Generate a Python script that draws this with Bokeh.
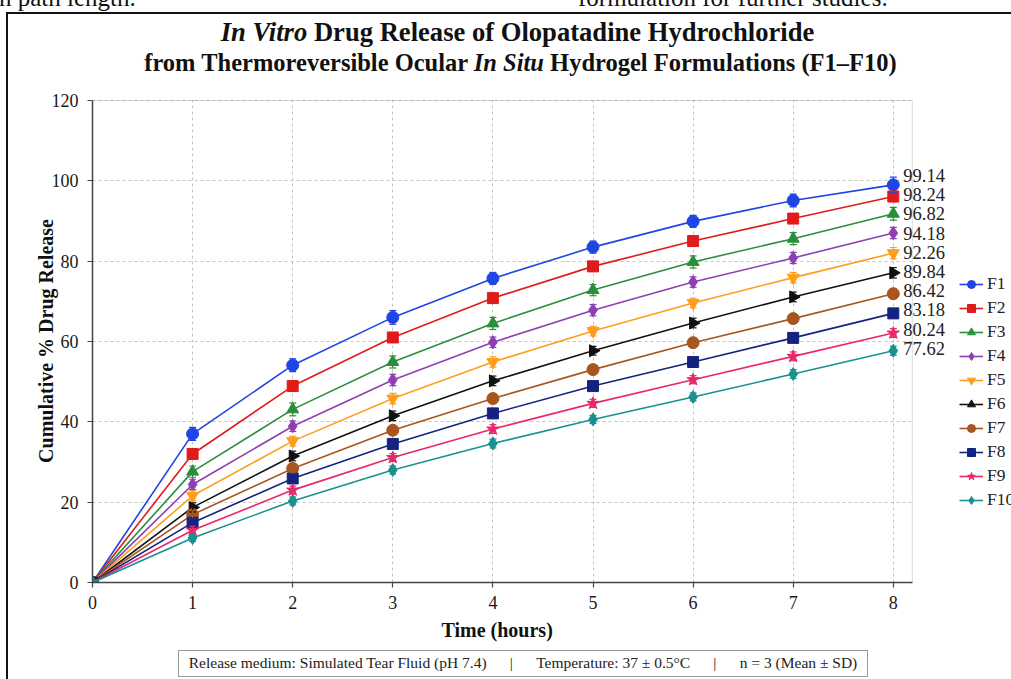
import math
from bokeh.plotting import figure
from bokeh.layouts import column
from bokeh.models import (Legend, LegendItem, Whisker, TeeHead, ColumnDataSource,
                          FixedTicker, Range1d, Div, BoxAnnotation, Title)
from bokeh.core.properties import value
from bokeh.embed import file_html
from bokeh.resources import INLINE

# ---------------- data ----------------
time_h = [0, 1, 2, 3, 4, 5, 6, 7, 8]
series_names = ["F1", "F2", "F3", "F4", "F5", "F6", "F7", "F8", "F9", "F10"]
F1 = [0, 37.0, 54.1, 66.0, 75.7, 83.5, 89.9, 95.1, 99.0]
F2 = [0, 32.0, 48.9, 61.0, 70.8, 78.7, 85.0, 90.6, 96.1]
F3 = [0, 27.6, 43.1, 54.9, 64.5, 72.8, 79.8, 85.6, 91.8]
F4 = [0, 24.4, 38.9, 50.4, 59.8, 67.8, 74.8, 80.8, 87.0]
F5 = [0, 21.6, 35.2, 45.8, 54.9, 62.6, 69.6, 75.9, 82.0]
F6 = [0, 18.7, 31.5, 41.5, 50.2, 57.7, 64.6, 71.1, 77.1]
F7 = [0, 16.9, 28.4, 37.9, 45.8, 53.0, 59.7, 65.7, 71.9]
F8 = [0, 14.9, 25.9, 34.5, 42.1, 48.9, 54.9, 60.9, 67.0]
F9 = [0, 13.0, 23.0, 31.1, 38.2, 44.6, 50.5, 56.3, 62.1]
F10 = [0, 11.1, 20.3, 28.0, 34.6, 40.6, 46.2, 51.9, 57.7]
SD1 = [0, 1.6, 1.6, 1.7, 1.5, 1.5, 1.5, 1.6, 1.9]
SD2 = [0, 1.2, 1.3, 1.2, 1.2, 1.2, 1.2, 1.2, 1.3]
SD3 = [0, 1.4, 1.6, 1.5, 1.5, 1.4, 1.5, 1.5, 1.6]
SD4 = [0, 1.3, 1.3, 1.4, 1.3, 1.4, 1.3, 1.4, 1.4]
SD5 = [0, 1.2, 1.2, 1.3, 1.3, 1.2, 1.2, 1.3, 1.4]
SD6 = [0, 1.1, 1.2, 1.2, 1.2, 1.1, 1.2, 1.2, 1.3]
SD7 = [0, 1.0, 1.1, 1.1, 1.1, 1.1, 1.1, 1.1, 1.2]
SD8 = [0, 1.0, 1.0, 1.1, 1.1, 1.0, 1.1, 1.1, 1.2]
SD9 = [0, 1.0, 1.0, 1.0, 1.1, 1.0, 1.0, 1.1, 1.1]
SD10 = [0, 0.9, 1.0, 1.0, 1.1, 1.0, 1.0, 1.1, 1.1]
end_labels = ["99.14", "98.24", "96.82", "94.18", "92.26", "89.84", "86.42", "83.18", "80.24", "77.62"]
x_ticks = [0, 1, 2, 3, 4, 5, 6, 7, 8]
y_ticks = [0, 20, 40, 60, 80, 100, 120]

values = [F1, F2, F3, F4, F5, F6, F7, F8, F9, F10]
sds = [SD1, SD2, SD3, SD4, SD5, SD6, SD7, SD8, SD9, SD10]
colors = ["#1f45e6", "#e01b1b", "#2a8f3a", "#8e3fb5", "#ff9d1e",
          "#111111", "#a8561e", "#14237f", "#e8286b", "#1a9090"]
markers = ["circle", "square", "triangle", "diamond", "inverted_triangle",
           "triangle", "circle", "square", "star", "diamond"]
angles = [0, 0, 0, 0, 0, -math.pi / 2, 0, 0, 0, 0]
sizes = [12, 11, 12, 13, 12, 12, 12, 11, 13, 13]

SERIF = "Liberation Serif"
X_MAX = 8.19      # right edge of the plotting box (hours)
Y_MAX = 120

# ---------------- page pieces ----------------
top_html = (
    '<div style="position:relative;width:1011px;height:12px;overflow:hidden;'
    'font-family:\'Liberation Serif\',serif;font-size:25px;line-height:25px;color:#111;white-space:nowrap">'
    '<span style="position:absolute;left:-1px;top:-15px">n path length.</span>'
    '<span style="position:absolute;left:578px;top:-15px">formulation for further studies.</span>'
    '</div>'
)
top_div = Div(text=top_html, width=1011, height=12, margin=0,
              styles={"overflow": "hidden"})

title_html = (
    '<div style="position:relative;width:1003px;height:70px;font-family:\'Liberation Serif\',serif;'
    'font-weight:bold;color:#111;white-space:nowrap">'
    '<div style="position:absolute;left:0;top:3px;width:1019px;text-align:center;'
    'font-size:26.6px;line-height:30px"><i>In Vitro</i> Drug Release of Olopatadine Hydrochloride</div>'
    '<div style="position:absolute;left:0;top:33.5px;width:1025px;text-align:center;'
    'font-size:24.5px;line-height:30px">from Thermoreversible Ocular <i>In Situ</i> '
    'Hydrogel Formulations (F1\u2013F10)</div>'
    '</div>'
)
title_div = Div(text=title_html, width=1003, height=70, margin=0)

sep = "&nbsp;" * 6 + "|" + "&nbsp;" * 6
footer_html = (
    '<div style="position:relative;width:1003px;height:31px">'
    '<div style="position:absolute;left:170px;top:-4px;width:690px;height:27px;box-sizing:border-box;'
    'border:1px solid #9a9a9a;background:#fff;display:flex;align-items:center;justify-content:center;'
    'font-family:\'Liberation Serif\',serif;font-size:15.5px;color:#222;white-space:nowrap">'
    'Release medium: Simulated Tear Fluid (pH 7.4)' + sep +
    'Temperature: 37 \u00b1 0.5\u00b0C' + sep + 'n = 3 (Mean \u00b1 SD)'
    '</div></div>'
)
footer_div = Div(text=footer_html, width=1003, height=31, margin=0)

# ---------------- figure ----------------
PW, PH = 1003, 570
MBL, MBT, MBB = 84, 15, 72
frame_w = PW - MBL
frame_h = PH - MBT - MBB
px_per_hour = 100.1
px_per_unit = 4.0167
p = figure(width=PW, height=PH, output_backend="svg", toolbar_location=None,
           x_range=Range1d(0, frame_w / px_per_hour),
           y_range=Range1d(0, frame_h / px_per_unit),
           min_border_left=MBL, min_border_right=0,
           min_border_top=MBT, min_border_bottom=MBB, margin=0)
p.background_fill_color = "white"
p.border_fill_color = "white"
p.outline_line_color = None

for ax in (p.xaxis, p.yaxis):
    ax.major_label_text_font = SERIF
    ax.major_label_text_font_size = "18px"
    ax.major_label_text_color = "#1a1a1a"
    ax.axis_line_color = "#444444"
    ax.axis_line_width = 1.5
    ax.major_tick_line_color = "#444444"
    ax.major_tick_line_width = 1.2
    ax.major_tick_out = 5
    ax.major_tick_in = 0
    ax.minor_tick_line_color = None
    ax.axis_label_text_font = SERIF
    ax.axis_label_text_font_style = "bold"
    ax.axis_label_text_font_size = "20px"
    ax.axis_label_text_color = "#111111"

p.xaxis.ticker = FixedTicker(ticks=x_ticks)
p.yaxis.ticker = FixedTicker(ticks=y_ticks)
p.xaxis.bounds = (0, X_MAX)
p.yaxis.bounds = (0, Y_MAX)
p.yaxis.axis_label = "Cumulative % Drug Release"
p.xaxis.major_label_standoff = 8
p.yaxis.major_label_standoff = 9
p.yaxis.axis_label_standoff = -8

# x-axis title, centred under the plotting box (not under the legend area)
p.add_layout(Title(text="Time (hours)", align="left", offset=349, vertical_align="top",
                   standoff=14, text_font=SERIF, text_font_style="bold",
                   text_font_size="20px", text_color="#111111"), "below")

for g in (p.xgrid, p.ygrid):
    g.grid_line_color = "#c4c4c4"
    g.grid_line_dash = "3 3"
    g.grid_line_width = 1

# hide grid beyond the plotting box (legend / label area)
p.add_layout(BoxAnnotation(left=X_MAX, fill_color="white", fill_alpha=1.0,
                           line_alpha=0, level="underlay"))
# gray box around the plotting area
p.add_layout(BoxAnnotation(left=0, right=X_MAX, bottom=0, top=Y_MAX,
                           fill_alpha=0, line_color="#8a8a8a", line_width=1,
                           level="underlay"))

items = []
for name, vals, sd, c, m, a, s in zip(series_names, values, sds, colors, markers, angles, sizes):
    src = ColumnDataSource(dict(
        x=time_h, y=vals,
        upper=[v + e for v, e in zip(vals, sd)],
        lower=[v - e for v, e in zip(vals, sd)],
    ))
    lr = p.line("x", "y", source=src, line_color=c, line_width=1.6)
    wh = Whisker(source=src, base="x", upper="upper", lower="lower",
                 line_color=c, line_width=1.2,
                 upper_head=TeeHead(size=7, line_color=c, line_width=1.2),
                 lower_head=TeeHead(size=7, line_color=c, line_width=1.2))
    wh.level = "glyph"
    p.add_layout(wh)
    sr = p.scatter("x", "y", source=src, marker=m, size=s, angle=a,
                   fill_color=c, line_color=c, line_width=1)
    items.append(LegendItem(label=name, renderers=[lr, sr]))

# end-value labels stacked to the right of the last time point
label_top = 101.33
label_step = 4.78
label_src = ColumnDataSource(dict(
    x=[time_h[-1]] * len(end_labels),
    y=[label_top - i * label_step for i in range(len(end_labels))],
    text=end_labels,
))
p.text("x", "y", text="text", source=label_src, x_offset=10,
       text_align="left", text_baseline="middle",
       text_font=value(SERIF), text_font_size=value("18.5px"), text_color="#222222")

legend = Legend(items=items, location=(867, 72), orientation="vertical",
                glyph_width=24, glyph_height=20, label_height=20, spacing=3,
                padding=0, margin=0, border_line_color=None,
                background_fill_alpha=0, label_standoff=4,
                label_text_font=SERIF, label_text_font_size="17.5px",
                label_text_color="#222222")
p.add_layout(legend)

framed = column(title_div, p, footer_div, spacing=0, margin=(0, 0, 0, 6),
                styles={"border-left": "2px solid #111111", "border-top": "2px solid #111111"})
root = column(top_div, framed, spacing=0, margin=0)

open("out.html", "w").write(file_html(root, INLINE))
